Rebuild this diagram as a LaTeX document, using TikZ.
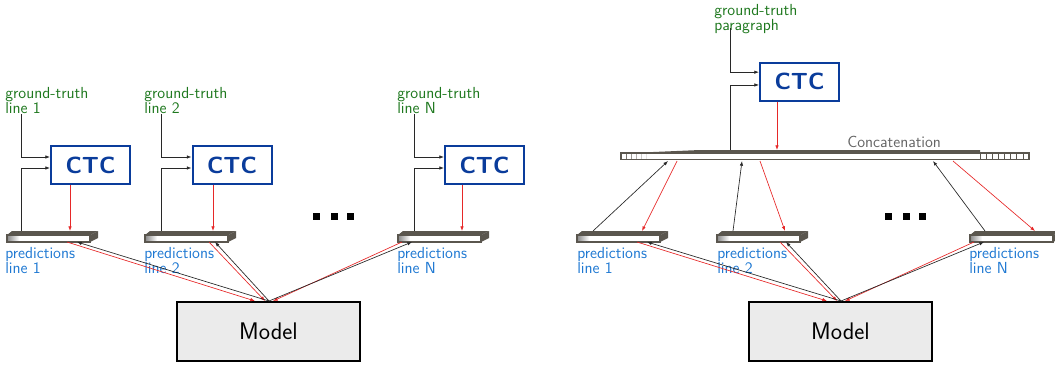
\documentclass[tikz,border=0pt]{standalone}
\usetikzlibrary{arrows.meta,calc}
\setlength\lineskiplimit{-20pt}
\definecolor{gtgreen}{RGB}{30,120,30}
\definecolor{predblue}{RGB}{30,120,210}
\definecolor{ctcblue}{RGB}{10,60,155}
\definecolor{bardark}{RGB}{90,86,78}
\definecolor{arrred}{RGB}{230,40,40}
\definecolor{linegray}{RGB}{40,40,40}
\definecolor{modelfill}{RGB}{235,235,235}
\definecolor{concatgray}{RGB}{100,100,100}
\newcommand{\predbar}[1]{%
  \fill[bardark] (#1,235) -- ({#1+5},231) -- ({#1+91},231) -- ({#1+83},235) -- cycle;
  \fill[bardark] ({#1+83},235) -- ({#1+91},231) -- ({#1+91},238) -- ({#1+83},242) -- cycle;
  \fill[white] (#1,235) rectangle ({#1+83},242);
  \shade[left color=black!45, right color=white] ({#1+0.5},235.5) rectangle ({#1+12},241.5);
  \draw[bardark, line width=0.9pt] (#1,235) rectangle ({#1+83},242);
}
\begin{document}
\begin{tikzpicture}[x=0.75pt,y=-0.75pt,
  lbl/.style={inner sep=0pt, anchor=north west, align=left, font=\fontsize{12}{11}\selectfont\sffamily},
  gt/.style={lbl, text=gtgreen},
  pred/.style={lbl, text=predblue},
  ctc/.style={draw=ctcblue, line width=1.5pt, text=ctcblue, font=\fontsize{17.5}{20}\selectfont\sffamily\bfseries, minimum width=59.25pt, minimum height=28.5pt, inner sep=0pt},
  model/.style={draw=black, line width=1.4pt, fill=modelfill, font=\fontsize{18}{20}\selectfont\sffamily, minimum width=137.25pt, minimum height=44.25pt, inner sep=0pt},
  ln/.style={draw=linegray, line width=0.5pt, -{Latex[length=3.5pt,width=2.6pt]}},
  rd/.style={draw=arrred, line width=0.5pt, -{Latex[length=3.5pt,width=2.6pt]}},
  sq/.style={fill=black, minimum size=5.25pt, inner sep=0pt},
]
\useasboundingbox (0,0) rectangle (1055,364);

% ---------- bars ----------
\predbar{7}
\predbar{145}
\predbar{398}
\predbar{577}
\predbar{717}
\predbar{970}

% concatenation bar
\fill[bardark] (630,153) -- (700,150) -- (980,150) -- (980,153) -- cycle;
\fill[white] (621,153) rectangle (1029,159.5);
\draw[bardark, line width=0.9pt] (621,153) rectangle (1029,159.5);
\foreach \x/\o in {626/0.8,631/0.6,636/0.45,641/0.3,646/0.15}
  \draw[bardark, line width=0.6pt, opacity=\o] (\x,153) -- (\x,159.5);
\foreach \x in {980,986.1,992.25,998.4,1004.5,1010.6,1016.75,1022.9}
  \draw[bardark, line width=0.6pt] (\x,153) -- (\x,159.5);
\node[anchor=base west, inner sep=0pt, text=concatgray, font=\fontsize{12}{10}\selectfont\sffamily] (cat) at (847,147) {Concatenation};

% ---------- nodes ----------
\node[ctc] (c1) at (90.5,165) {CTC};
\node[ctc] (c2) at (232,165) {CTC};
\node[ctc] (c3) at (484.5,165) {CTC};
\node[ctc] (c4) at (799.5,81.5) {CTC};

\node[model] (m1) at (268.5,331.5) {Model};
\node[model] (m2) at (840.5,331.5) {Model};

\node[gt] (g1) at (5,87) {ground-truth\\line 1};
\node[gt] (g2) at (144,87) {ground-truth\\line 2};
\node[gt] (g3) at (397,87) {ground-truth\\line N};
\node[gt] (g4) at (714,4) {ground-truth\\paragraph};

\node[pred] (p1) at (5,247) {predictions\\line 1};
\node[pred] (p2) at (144,247) {predictions\\line 2};
\node[pred] (p3) at (397,247) {predictions\\line N};
\node[pred] (p4) at (577,247) {predictions\\line 1};
\node[pred] (p5) at (717,247) {predictions\\line 2};
\node[pred] (p6) at (969,247) {predictions\\line N};

\node[sq] (d1) at (316.5,216.5) {};
\node[sq] (d2) at (334.5,216.5) {};
\node[sq] (d3) at (350.5,216.5) {};
\node[sq] (d4) at (888.5,216.5) {};
\node[sq] (d5) at (906.5,216.5) {};
\node[sq] (d6) at (922.5,216.5) {};

% ---------- coordinates ----------
\coordinate (g1s) at (21,114);
\coordinate (g2s) at (161,114);
\coordinate (g3s) at (414,114);
\coordinate (g4s) at (730,28);
\coordinate (b1u) at (21,231);
\coordinate (b2u) at (161,231);
\coordinate (b3u) at (414,231);
\coordinate (ccu) at (730,150);
\coordinate (r1) at (70,231);
\coordinate (r2) at (213,231);
\coordinate (r3) at (462,231);
\coordinate (r4) at (777,150);

% left panel bar <-> model
\coordinate (lm) at (269,301);
\coordinate (lrs1) at (67,242);  \coordinate (lre1) at (255,301);
\coordinate (lrs2) at (209,242); \coordinate (lre2) at (265,301);
\coordinate (lrs3) at (402,242); \coordinate (lre3) at (273,301);
\coordinate (lbe1) at (77,242);
\coordinate (lbe2) at (215,242);
\coordinate (lbe3) at (412,242);
% right panel bar <-> model
\coordinate (rm) at (841,301);
\coordinate (rrs1) at (637,242); \coordinate (rre1) at (827,301);
\coordinate (rrs2) at (780,242); \coordinate (rre2) at (837,301);
\coordinate (rrs3) at (974,242); \coordinate (rre3) at (845,301);
\coordinate (rbe1) at (647,242);
\coordinate (rbe2) at (786,242);
\coordinate (rbe3) at (984,242);
% right panel bar <-> concatenation
\coordinate (kb1) at (593,231); \coordinate (kc1) at (668,161);
\coordinate (kb2) at (733,231); \coordinate (kc2) at (742,161);
\coordinate (kb3) at (985,231); \coordinate (kc3) at (933,161);
\coordinate (ks1) at (677,161); \coordinate (kt1) at (642,231);
\coordinate (ks2) at (760,161); \coordinate (kt2) at (785,231);
\coordinate (ks3) at (953,161); \coordinate (kt3) at (1035,231);

% ---------- connectors ----------
\draw[ln] (g1s) |- ([yshift=6pt]c1.west);
\draw[ln] (g2s) |- ([yshift=6pt]c2.west);
\draw[ln] (g3s) |- ([yshift=6pt]c3.west);
\draw[ln] (g4s) |- ([yshift=7pt]c4.west);
\draw[ln] (b1u) |- ([yshift=-2.25pt]c1.west);
\draw[ln] (b2u) |- ([yshift=-2.25pt]c2.west);
\draw[ln] (b3u) |- ([yshift=-2.25pt]c3.west);
\draw[ln] (ccu) |- ([yshift=-2.6pt]c4.west);
\draw[rd] (c1.south -| r1) -- (r1);
\draw[rd] (c2.south -| r2) -- (r2);
\draw[rd] (c3.south -| r3) -- (r3);
\draw[rd] (c4.south -| r4) -- (r4);

\draw[rd] (lrs1) -- (lre1);
\draw[rd] (lrs2) -- (lre2);
\draw[rd] (lrs3) -- (lre3);
\draw[ln] (lm) -- (lbe1);
\draw[ln] (lm) -- (lbe2);
\draw[ln] (lm) -- (lbe3);

\draw[rd] (rrs1) -- (rre1);
\draw[rd] (rrs2) -- (rre2);
\draw[rd] (rrs3) -- (rre3);
\draw[ln] (rm) -- (rbe1);
\draw[ln] (rm) -- (rbe2);
\draw[ln] (rm) -- (rbe3);

\draw[ln] (kb1) -- (kc1);
\draw[ln] (kb2) -- (kc2);
\draw[ln] (kb3) -- (kc3);
\draw[rd] (ks1) -- (kt1);
\draw[rd] (ks2) -- (kt2);
\draw[rd] (ks3) -- (kt3);
\end{tikzpicture}
\end{document}
